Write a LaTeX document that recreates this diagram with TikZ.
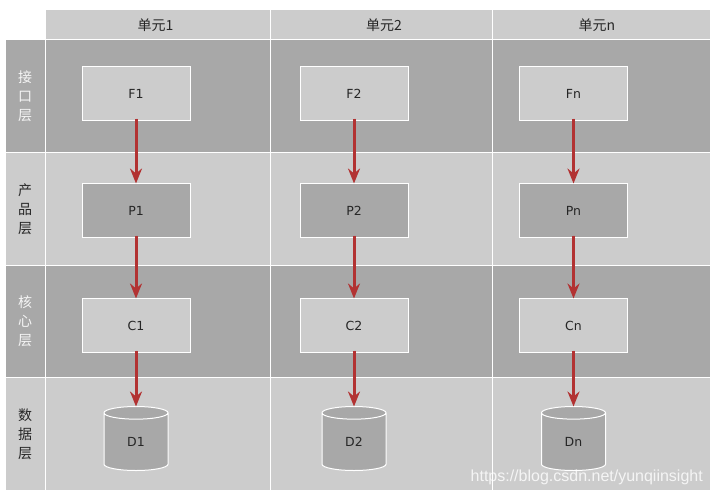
\documentclass[tikz,border=0pt]{standalone}
\usepackage{fontspec}
\setmainfont{DejaVu Sans}
\newfontfamily\cjk{Noto Sans CJK SC}
\newfontfamily\marca{Liberation Sans}
\usetikzlibrary{positioning,arrows.meta,shapes.geometric}
\definecolor{escuro}{RGB}{168,168,168}
\definecolor{claro}{RGB}{204,204,204}
\definecolor{vermelho}{RGB}{178,50,50}
\definecolor{tinta}{RGB}{38,38,38}

\begin{document}
\begin{tikzpicture}[x=1pt, y=1pt,
    celula/.style={draw=white, line width=1pt, outer sep=0pt, inner sep=0pt},
    unidade/.style={celula, fill=claro, minimum height=30pt, text=tinta,
                    font=\cjk\fontsize{14}{16}\selectfont},
    camada/.style={celula, minimum width=40pt, minimum height=112.5pt, align=center,
                   font=\cjk\fontsize{14}{19}\selectfont},
    faixa/.style={celula, minimum height=112.5pt},
    caixa/.style={draw=white, line width=1pt, outer sep=0pt, text=tinta, inner sep=0pt,
                  minimum width=108pt, minimum height=54pt, font=\fontsize{12.5}{15}\selectfont},
    banco/.style={cylinder, shape border rotate=90, aspect=0.72, draw=white, line width=1pt,
                  cylinder uses custom fill, cylinder body fill=escuro, cylinder end fill=escuro,
                  outer sep=0pt, inner sep=0pt, minimum width=64pt, minimum height=64pt,
                  text=tinta, font=\fontsize{12.5}{15}\selectfont},
    seta/.style={-{Stealth[length=15pt, width=12pt, inset=5pt]}, draw=vermelho, fill=vermelho,
                 line width=3pt, shorten <=-2pt, shorten >=0pt}]
  \useasboundingbox (0,0) rectangle (714,-495);
  % cabecalho
  \node[unidade, minimum width=225pt, anchor=north west] (h1) at (45,-10) {单元1\kern4pt};
  \node[unidade, minimum width=222pt, right=0pt of h1] (h2) {\kern6pt 单元2};
  \node[unidade, minimum width=218pt, right=0pt of h2] (h3) {单元n\kern8pt};
  % faixas
  \node[faixa, fill=escuro, minimum width=225pt, below=0pt of h1] (a1) {};
  \node[faixa, fill=escuro, minimum width=222pt, below=0pt of h2] (a2) {};
  \node[faixa, fill=escuro, minimum width=218pt, below=0pt of h3] (a3) {};
  \node[faixa, fill=claro, minimum width=225pt, below=0pt of a1] (b1) {};
  \node[faixa, fill=claro, minimum width=222pt, below=0pt of a2] (b2) {};
  \node[faixa, fill=claro, minimum width=218pt, below=0pt of a3] (b3) {};
  \node[faixa, fill=escuro, minimum width=225pt, below=0pt of b1] (c1) {};
  \node[faixa, fill=escuro, minimum width=222pt, below=0pt of b2] (c2) {};
  \node[faixa, fill=escuro, minimum width=218pt, below=0pt of b3] (c3) {};
  \node[faixa, fill=claro, minimum width=225pt, below=0pt of c1] (d1) {};
  \node[faixa, fill=claro, minimum width=222pt, below=0pt of c2] (d2) {};
  \node[faixa, fill=claro, minimum width=218pt, below=0pt of c3] (d3) {};
  % camadas
  \node[camada, fill=escuro, text=white!88!escuro, left=0pt of a1] (la) {接\\口\\层};
  \node[camada, fill=claro, text=tinta, left=0pt of b1] (lb) {产\\品\\层};
  \node[camada, fill=escuro, text=white!88!escuro, left=0pt of c1] (lc) {核\\心\\层};
  \node[camada, fill=claro, text=tinta, left=0pt of d1] (ld) {数\\据\\层};
  % caixas
  \node[caixa, fill=claro] (F1) at (136,-93.5) {F1};
  \node[caixa, fill=claro] (F2) at (354,-93.5) {F2};
  \node[caixa, fill=claro] (Fn) at (573.5,-93.5) {Fn};
  \node[caixa, fill=escuro, below=63pt of F1] (P1) {P1};
  \node[caixa, fill=escuro, below=63pt of F2] (P2) {P2};
  \node[caixa, fill=escuro, below=63pt of Fn] (Pn) {Pn};
  \node[caixa, fill=claro, below=61pt of P1] (C1) {C1};
  \node[caixa, fill=claro, below=61pt of P2] (C2) {C2};
  \node[caixa, fill=claro, below=61pt of Pn] (Cn) {Cn};
  \node[banco, below=54pt of C1] (D1) {D1};
  \node[banco, below=54pt of C2] (D2) {D2};
  \node[banco, below=54pt of Cn] (Dn) {Dn};
  % setas
  \draw[seta] (F1) -- (P1);
  \draw[seta] (F2) -- (P2);
  \draw[seta] (Fn) -- (Pn);
  \draw[seta] (P1) -- (C1);
  \draw[seta] (P2) -- (C2);
  \draw[seta] (Pn) -- (Cn);
  \draw[seta] (C1) -- (D1);
  \draw[seta] (C2) -- (D2);
  \draw[seta] (Cn) -- (Dn);
  \node[text=white, opacity=0.8, anchor=east, inner sep=0pt, font=\marca\fontsize{16}{18}\selectfont]
    (wm) at (703,-477) {https://blog.csdn.net/yunqiinsight};
\end{tikzpicture}
\end{document}
